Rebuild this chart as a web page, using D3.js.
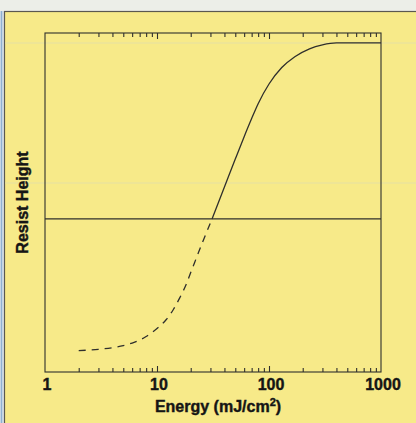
<!DOCTYPE html>
<html>
<head>
<meta charset="utf-8">
<script src="https://cdn.jsdelivr.net/npm/d3@7"></script>
<style>
  html, body { margin: 0; padding: 0; background: #eef0ea; }
  svg { display: block; }
</style>
</head>
<body>
<svg id="chart" width="416" height="423"></svg>
<script>
// Exposure energy (mJ/cm^2) and normalized remaining resist height
const energy = [2, 3, 4, 5, 6, 7, 8, 9, 10, 12, 14, 16, 18, 20, 25, 31,
                40, 50, 60, 70, 80, 100, 130, 170, 230, 300, 400, 600, 1000];
const height = [0.065, 0.069, 0.074, 0.080, 0.088, 0.097, 0.108, 0.120, 0.132,
                0.158, 0.190, 0.226, 0.262, 0.302, 0.387, 0.465,
                0.562, 0.647, 0.715, 0.770, 0.815, 0.875, 0.925, 0.958, 0.982,
                0.994, 1.000, 1.000, 1.000];
// Height at which the response switches from dashed to solid
const threshold = 0.465;
const xTickLabels = [1, 10, 100, 1000];
const xTitle = "Energy (mJ/cm";
const yTitle = "Resist Height";

const W = 416, H = 423;
const plot = { left: 45, right: 381, top: 33, bottom: 372 };
const ink = "#2f2f2c";
const paper = "#f7ea89";

const svg = d3.select("#chart");

// page edges around the panel
svg.append("rect").attr("x", 0).attr("y", 0).attr("width", W).attr("height", H).attr("fill", "#eceee8");
svg.append("rect").attr("x", 0).attr("y", 11).attr("width", 4).attr("height", H - 11).attr("fill", "#d8e2ea");
svg.append("line").attr("x1", 1.5).attr("x2", 1.5).attr("y1", 11).attr("y2", H)
  .attr("stroke", "#8fb0d0").attr("stroke-width", 1.5);

// yellow panel
svg.append("rect").attr("x", 4.5).attr("y", 11.5).attr("width", W).attr("height", H)
  .attr("fill", paper).attr("stroke", "#5a5850").attr("stroke-width", 1.2);

// faint rules showing through the page
svg.append("g").selectAll("line").data([43, 183]).join("line")
  .attr("x1", 5).attr("x2", W).attr("y1", d => d).attr("y2", d => d)
  .attr("stroke", "#e6e0a4").attr("stroke-width", 1.2);

const x = d3.scaleLog().domain([1, 1000]).range([plot.left, plot.right]);
const y = d3.scaleLinear().domain([0, 1.03]).range([plot.bottom, plot.top]);

// frame
svg.append("rect")
  .attr("x", plot.left).attr("y", plot.top)
  .attr("width", plot.right - plot.left).attr("height", plot.bottom - plot.top)
  .attr("fill", "none").attr("stroke", ink).attr("stroke-width", 1.1);

// inward ticks on the bottom and top edges
const minorVals = x.ticks().filter(v => !xTickLabels.includes(v));
const majorVals = [10, 100];
function tickAxis(axisFn, vals, len, yPos) {
  const g = svg.append("g").attr("transform", `translate(0,${yPos})`)
    .call(axisFn(x).tickValues(vals).tickSize(len).tickFormat(""));
  g.select(".domain").remove();
  g.selectAll(".tick line").attr("stroke", ink).attr("stroke-width", 1.1);
}
tickAxis(d3.axisBottom, minorVals, -4, plot.bottom);
tickAxis(d3.axisBottom, majorVals, -6, plot.bottom);
tickAxis(d3.axisTop, minorVals, -4, plot.top);
tickAxis(d3.axisTop, majorVals, -6, plot.top);

// tick labels
svg.append("g").selectAll("text").data(xTickLabels).join("text")
  .attr("x", d => x(d) + 2).attr("y", 390)
  .attr("text-anchor", "middle")
  .attr("font-family", "Liberation Sans, Arial, sans-serif").attr("font-weight", "bold")
  .attr("font-size", 16).attr("fill", "#151515")
  .attr("stroke", "#151515").attr("stroke-width", 0.4)
  .text(d => d);

// axis titles
const xt = svg.append("text").attr("x", 218).attr("y", 412).attr("text-anchor", "middle")
  .attr("font-family", "Liberation Sans, Arial, sans-serif").attr("font-weight", "bold")
  .attr("font-size", 16).attr("fill", "#151515")
  .attr("stroke", "#151515").attr("stroke-width", 0.4);
xt.append("tspan").text(xTitle);
xt.append("tspan").attr("font-size", 11).attr("dy", -6).text("2");
xt.append("tspan").attr("dy", 6).text(")");

svg.append("text")
  .attr("transform", `translate(28,${(plot.top + plot.bottom) / 2}) rotate(-90)`)
  .attr("text-anchor", "middle")
  .attr("font-family", "Liberation Sans, Arial, sans-serif").attr("font-weight", "bold")
  .attr("font-size", 16).attr("fill", "#151515")
  .attr("stroke", "#151515").attr("stroke-width", 0.4)
  .text(yTitle);

// threshold line
svg.append("line")
  .attr("x1", plot.left).attr("x2", plot.right)
  .attr("y1", y(threshold)).attr("y2", y(threshold))
  .attr("stroke", ink).attr("stroke-width", 1.2);

// response curve: dashed below threshold, solid above
const pts = energy.map((e, i) => ({ e, h: height[i] }));
const curve = d3.line().x(d => x(d.e)).y(d => y(d.h)).curve(d3.curveMonotoneX);
svg.append("path").datum(pts.filter(d => d.h <= threshold))
  .attr("d", curve)
  .attr("fill", "none").attr("stroke", ink).attr("stroke-width", 1.3)
  .attr("stroke-dasharray", "7,6");
svg.append("path").datum(pts.filter(d => d.h >= threshold))
  .attr("d", curve)
  .attr("fill", "none").attr("stroke", ink).attr("stroke-width", 1.3);
</script>
</body>
</html>
